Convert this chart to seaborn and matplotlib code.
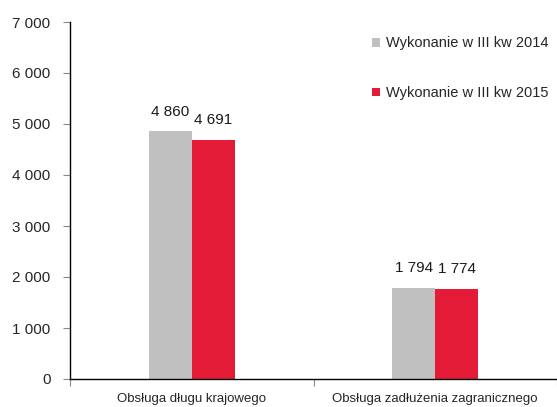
import matplotlib
matplotlib.use("Agg")
import matplotlib.pyplot as plt
import seaborn as sns
import pandas as pd
from matplotlib.ticker import FuncFormatter, FixedLocator

categories = ["Obsługa długu krajowego", "Obsługa zadłużenia zagranicznego"]
series_names = ["Wykonanie w III kw 2014", "Wykonanie w III kw 2015"]
values_2014 = [4860, 1794]
values_2015 = [4691, 1774]
colors = ["#C0C0C0", "#E31B37"]

df = pd.DataFrame({
    "cat": categories * 2,
    "series": [series_names[0]] * 2 + [series_names[1]] * 2,
    "value": values_2014 + values_2015,
})

sns.set_style("white")
plt.rcParams["font.family"] = ["Liberation Sans", "DejaVu Sans"]

fig = plt.figure(figsize=(5.57, 4.07), dpi=100)
ax = fig.add_axes([70/557, 1 - 379/407, 1 - 70/557, 357/407])

sns.barplot(data=df, x="cat", y="value", hue="series", palette=colors,
            width=0.354, saturation=1, ax=ax, legend=True, linewidth=0)

def fmt(v):
    return f"{int(round(v)):,}".replace(",", " ")

for cont in ax.containers:
    ax.bar_label(cont, labels=[fmt(b.get_height()) for b in cont], padding=9, fontsize=11, color="#1a1a1a")

ax.set_ylim(0, 7000)
ax.set_xlim(-0.5, 1.5)
ax.set_yticks(range(0, 7001, 1000))
ax.yaxis.set_major_formatter(FuncFormatter(lambda v, p: fmt(v)))
ax.tick_params(axis="y", length=5, width=0.8, color="#888888", labelsize=11, pad=9, left=True)
ax.tick_params(axis="x", which="major", length=0, labelsize=9.5, pad=10)
ax.xaxis.set_minor_locator(FixedLocator([-0.5, 0.5, 1.5]))
ax.tick_params(axis="x", which="minor", length=5, width=0.8, color="#888888", bottom=True)
ax.set_xlabel("")
ax.set_ylabel("")
for s in ["top", "right"]:
    ax.spines[s].set_visible(False)
for s in ["left", "bottom"]:
    ax.spines[s].set_color("black")
    ax.spines[s].set_linewidth(1.0)

leg = ax.legend(loc="upper left", bbox_to_anchor=(0.606, 0.98), frameon=False,
                fontsize=10.5, handlelength=0.55, handleheight=0.55, handletextpad=0.35,
                labelspacing=2.45, borderpad=0)

fig.savefig("out.png", dpi=100)
